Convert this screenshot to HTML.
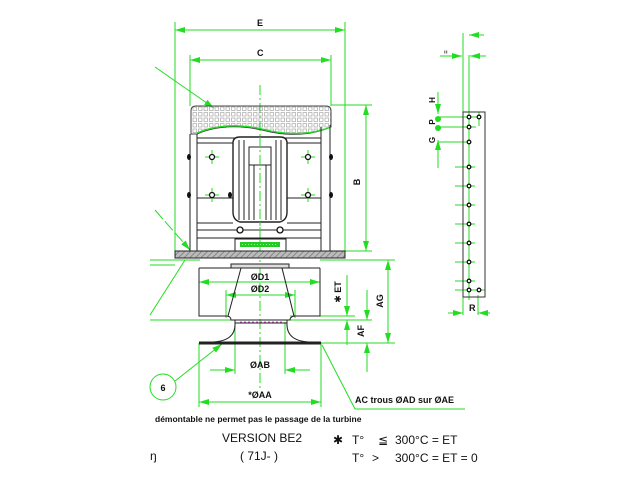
<!DOCTYPE html>
<html><head><meta charset="utf-8"><style>
html,body{margin:0;padding:0;background:#fff;width:640px;height:480px;overflow:hidden}
svg{display:block}
text{font-family:"Liberation Sans","DejaVu Sans",sans-serif;fill:#111}
</style></head><body>
<svg width="640" height="480" viewBox="0 0 640 480" xmlns="http://www.w3.org/2000/svg">
<defs>
<pattern id="grid" width="5.5" height="5.5" patternUnits="userSpaceOnUse" x="192" y="106">
<rect x="1" y="1" width="3.5" height="3.5" fill="none" stroke="#999" stroke-width="0.6"/>
</pattern>
<pattern id="hatch" width="4" height="4" patternUnits="userSpaceOnUse" patternTransform="rotate(45)">
<rect width="4" height="4" fill="#bbb"/><line x1="0" y1="0" x2="0" y2="4" stroke="#777" stroke-width="1.5"/>
</pattern>
<marker id="a" viewBox="0 0 10 6" refX="10" refY="3" markerWidth="10" markerHeight="6" orient="auto-start-reverse" markerUnits="userSpaceOnUse">
<path d="M0,0 L10,3 L0,6 z" fill="#22dd22"/></marker>
</defs>
<g stroke="#22dd22" stroke-width="1" fill="none">
<line x1="175" y1="22" x2="175" y2="258"/>
<line x1="345" y1="22" x2="345" y2="258"/>
<line x1="190" y1="55" x2="190" y2="106"/>
<line x1="331" y1="55" x2="331" y2="106"/>
<line x1="175" y1="30" x2="345" y2="30" marker-start="url(#a)" marker-end="url(#a)"/>
<line x1="190" y1="60" x2="331" y2="60" marker-start="url(#a)" marker-end="url(#a)"/>
<line x1="331" y1="105" x2="372" y2="105"/>
<line x1="345" y1="251" x2="372" y2="251"/>
<line x1="366" y1="105" x2="366" y2="251" marker-start="url(#a)" marker-end="url(#a)"/>
<line x1="155" y1="67" x2="214" y2="108" marker-end="url(#a)"/>
<line x1="155" y1="210" x2="190" y2="250" marker-end="url(#a)" stroke-dasharray="12,3"/>
<line x1="150" y1="260" x2="200" y2="260"/>
<line x1="150" y1="265" x2="175" y2="265"/>
<line x1="150" y1="320" x2="231" y2="320"/>
<line x1="150" y1="315" x2="185" y2="260"/>
<line x1="260" y1="85" x2="260" y2="390" stroke-dasharray="10,3,2,3"/>
<line x1="199" y1="282" x2="320" y2="282" marker-start="url(#a)" marker-end="url(#a)"/>
<line x1="226" y1="295" x2="295" y2="295" marker-start="url(#a)" marker-end="url(#a)"/>
<line x1="226" y1="290" x2="226" y2="318"/>
<line x1="295" y1="290" x2="295" y2="318"/>
<line x1="320" y1="260" x2="395" y2="260"/>
<line x1="290" y1="320" x2="372" y2="320"/>
<line x1="290" y1="316" x2="355" y2="316"/>
<line x1="320" y1="343" x2="395" y2="343"/>
<line x1="347" y1="275" x2="347" y2="316" marker-end="url(#a)"/>
<line x1="347" y1="320" x2="347" y2="345" marker-start="url(#a)"/>
<line x1="367" y1="290" x2="367" y2="320" marker-end="url(#a)"/>
<line x1="367" y1="343" x2="367" y2="372" marker-start="url(#a)"/>
<line x1="388" y1="260" x2="388" y2="343" marker-start="url(#a)" marker-end="url(#a)"/>
<line x1="199" y1="343" x2="199" y2="407"/>
<line x1="321" y1="343" x2="321" y2="407"/>
<line x1="235" y1="322" x2="235" y2="374"/>
<line x1="285" y1="322" x2="285" y2="374"/>
<line x1="210" y1="370" x2="235" y2="370" marker-end="url(#a)"/>
<line x1="285" y1="370" x2="310" y2="370" marker-start="url(#a)"/>
<line x1="199" y1="402" x2="321" y2="402" marker-start="url(#a)" marker-end="url(#a)"/>
<circle cx="163" cy="387" r="13"/>
<line x1="175" y1="381" x2="222" y2="344" marker-end="url(#a)"/>
<line x1="322" y1="345" x2="355" y2="409"/>
<line x1="355" y1="409" x2="465" y2="409"/>
<line x1="463" y1="33" x2="463" y2="315"/>
<line x1="469" y1="55" x2="469" y2="300"/>
<line x1="470" y1="35" x2="485" y2="35" marker-end="url(#a)" transform="rotate(180 477 35)"/>
<line x1="440" y1="56" x2="462" y2="56" marker-end="url(#a)"/>
<line x1="470" y1="56" x2="486" y2="56" marker-start="url(#a)"/>
<line x1="438" y1="92" x2="438" y2="114" marker-end="url(#a)"/>
<line x1="438" y1="140" x2="438" y2="168" marker-start="url(#a)"/>
<line x1="438" y1="117" x2="480" y2="117"/>
<line x1="438" y1="127" x2="476" y2="127"/>
<line x1="438" y1="142" x2="470" y2="142"/>
<line x1="479" y1="112" x2="479" y2="126"/>
<line x1="455" y1="167" x2="475" y2="167"/>
<line x1="455" y1="186" x2="475" y2="186"/>
<line x1="455" y1="205" x2="475" y2="205"/>
<line x1="455" y1="224" x2="475" y2="224"/>
<line x1="455" y1="243" x2="475" y2="243"/>
<line x1="455" y1="262" x2="475" y2="262"/>
<line x1="455" y1="281" x2="475" y2="281"/>
<line x1="455" y1="290" x2="485" y2="290"/>
<line x1="478" y1="295" x2="478" y2="315"/>
<line x1="448" y1="313" x2="463" y2="313" marker-end="url(#a)"/>
<line x1="478" y1="313" x2="490" y2="313" marker-start="url(#a)"/>
</g>
<g fill="#22dd22"><circle cx="438" cy="119" r="3"/><circle cx="438" cy="128" r="3"/></g>
<g stroke="#222" stroke-width="1" fill="none">
<path d="M191,111 Q191,106 196,106 L326,106 Q331,106 331,111 L331,127 Q300,140 262,130 Q225,122 197,134 L191,134 Z" fill="url(#grid)" stroke="#444"/>
<path d="M197,133 Q225,121 262,129 Q300,139 331,127" stroke="#22dd22" stroke-width="1.3"/>
<line x1="190" y1="134" x2="190" y2="251"/>
<line x1="197" y1="134" x2="197" y2="251"/>
<line x1="321" y1="127" x2="321" y2="251"/>
<line x1="330" y1="125" x2="330" y2="251"/>
<line x1="197" y1="138" x2="321" y2="138"/>
<line x1="197" y1="143" x2="233" y2="143"/><line x1="287" y1="143" x2="321" y2="143"/>
<line x1="197" y1="198" x2="233" y2="198"/><line x1="287" y1="198" x2="321" y2="198"/>
<line x1="197" y1="223" x2="233" y2="223"/><line x1="287" y1="223" x2="321" y2="223"/>
<line x1="197" y1="230" x2="321" y2="230"/>
<line x1="197" y1="238" x2="321" y2="238"/>
<path d="M233,143 Q233,137 240,137 L280,137 Q287,137 287,143 L287,212 Q287,220 280,222 L240,222 Q233,220 233,212 Z" fill="#fff" stroke-width="1.4"/>
<line x1="239" y1="140" x2="239" y2="220"/><line x1="244" y1="140" x2="244" y2="220"/><line x1="249" y1="150" x2="249" y2="220"/>
<line x1="271" y1="150" x2="271" y2="220"/><line x1="276" y1="140" x2="276" y2="220"/><line x1="281" y1="140" x2="281" y2="220"/>
<line x1="254" y1="165" x2="254" y2="220"/><line x1="266" y1="165" x2="266" y2="220"/>
<rect x="249" y="147" width="22" height="18" fill="#fff"/>
<rect x="235" y="239" width="51" height="12"/>
<rect x="175" y="251" width="170" height="7" fill="url(#hatch)"/>
<path d="M199,268 L199,316 L226,316 M320,268 L320,316 L296,316 M199,268 L320,268"/>
<rect x="231" y="264" width="58" height="4" fill="#ddd"/>
<line x1="241" y1="268" x2="228" y2="316"/>
<line x1="282" y1="268" x2="294" y2="316"/>
<path d="M226,316 Q231,316 231,320 L290,320 Q290,316 296,316"/>
<rect x="235" y="320" width="52" height="3" fill="none"/>
<path d="M235,323 Q236,342 210,342 M287,323 Q286,342 312,342"/>
<line x1="199" y1="343" x2="321" y2="343" stroke-width="3"/>
<rect x="463" y="112" width="22" height="185" fill="none" stroke="#333"/>
</g>
<line x1="260" y1="137" x2="260" y2="250" stroke="#22dd22" stroke-dasharray="10,3,2,3"/>
<line x1="240" y1="322" x2="284" y2="322" stroke="#e040e0" stroke-dasharray="2,2"/>
<rect x="240" y="242" width="40" height="5" fill="#2c2"/>
<line x1="242" y1="244.5" x2="278" y2="244.5" stroke="#8f8" stroke-dasharray="1,2"/>
<g stroke="#22dd22" stroke-width="1" fill="none">
<path d="M205,157h14M212,150v14M205,195h14M212,188v14M301,157h14M308,150v14M301,195h14M308,188v14"/>
</g>
<g fill="#fff" stroke="#111" stroke-width="1.3">
<circle cx="212" cy="157" r="2.5"/><circle cx="212" cy="195" r="2.5"/><circle cx="308" cy="157" r="2.5"/><circle cx="308" cy="195" r="2.5"/>
<circle cx="240" cy="230" r="3"/><circle cx="280" cy="230" r="3"/>
<circle cx="469" cy="117" r="1.8"/><circle cx="479" cy="117" r="1.8"/><circle cx="469" cy="127" r="1.8"/><circle cx="469" cy="142" r="1.8"/>
<circle cx="469" cy="167" r="1.8"/><circle cx="469" cy="186" r="1.8"/><circle cx="469" cy="205" r="1.8"/><circle cx="469" cy="224" r="1.8"/>
<circle cx="469" cy="243" r="1.8"/><circle cx="469" cy="262" r="1.8"/><circle cx="469" cy="281" r="1.8"/><circle cx="469" cy="290" r="1.8"/><circle cx="479" cy="290" r="1.8"/>
</g>
<g fill="#111"><ellipse cx="189" cy="157" rx="2" ry="3"/><ellipse cx="189" cy="195" rx="2" ry="3"/><ellipse cx="331" cy="157" rx="2" ry="3"/><ellipse cx="331" cy="195" rx="2" ry="3"/><ellipse cx="230" cy="195" rx="2" ry="3"/></g>
<g font-weight="bold" font-size="9">
<text x="257" y="26">E</text>
<text x="257" y="56">C</text>
<text x="360" y="182" transform="rotate(-90 360 182)" text-anchor="middle">B</text>
<text x="260" y="280" text-anchor="middle">ØD1</text>
<text x="260" y="292" text-anchor="middle">ØD2</text>
<text x="341" y="292" transform="rotate(-90 341 292)" text-anchor="middle">✱ ET</text>
<text x="383" y="301" transform="rotate(-90 383 301)" text-anchor="middle">AG</text>
<text x="364" y="331" transform="rotate(-90 364 331)" text-anchor="middle">AF</text>
<text x="260" y="368" text-anchor="middle">ØAB</text>
<text x="260" y="398" text-anchor="middle">*ØAA</text>
<text x="163" y="391" text-anchor="middle">6</text>
<text x="355" y="403">AC trous ØAD sur ØAE</text>
<text x="155" y="422" font-size="8.5">démontable ne permet pas le passage de la turbine</text>
<text x="435" y="100" transform="rotate(-90 435 100)" text-anchor="middle" font-size="8">H</text>
<text x="435" y="122" transform="rotate(-90 435 122)" text-anchor="middle" font-size="8">P</text>
<text x="435" y="140" transform="rotate(-90 435 140)" text-anchor="middle" font-size="8">G</text>
<text x="448" y="52" transform="rotate(-90 448 52)" text-anchor="middle" font-size="6">=</text>
<text x="469" y="311" font-size="9">R</text>
</g>
<g font-size="12">
<text x="222" y="442">VERSION BE2</text>
<text x="240" y="460">( 71J- )</text>
<text x="150" y="460">ŋ</text>
<text x="333" y="444">✱</text>
<text x="352" y="444">T°</text>
<text x="378" y="444" fill="#888">≦</text>
<text x="395" y="444">300°C = ET</text>
<text x="352" y="462">T°</text>
<text x="372" y="462" fill="#888">&gt;</text>
<text x="395" y="462">300°C = ET = 0</text>
</g>
</svg>
</body></html>
